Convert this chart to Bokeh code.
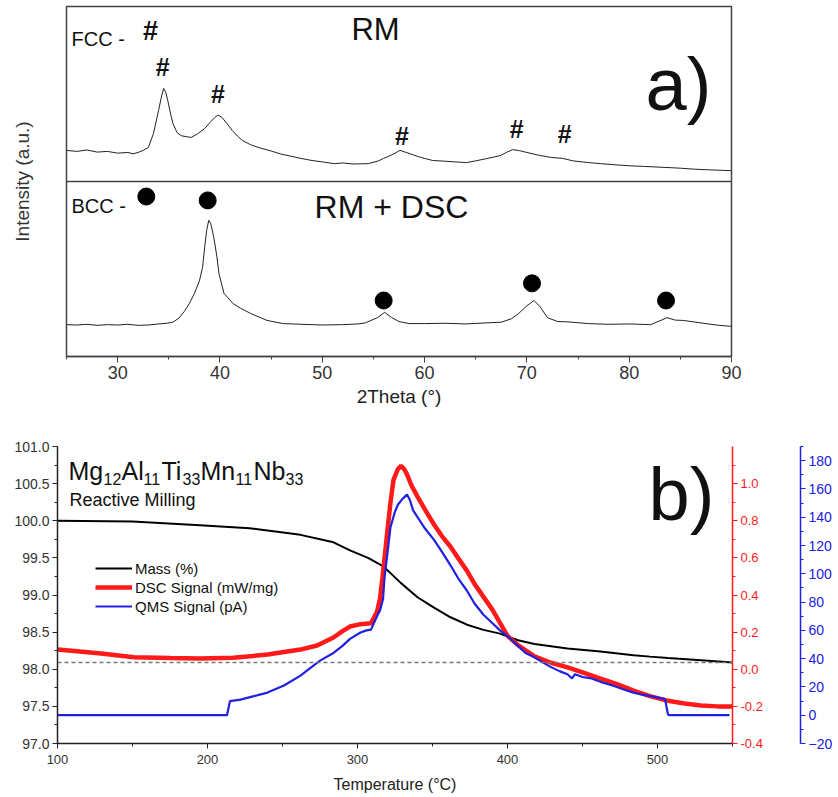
from bokeh.plotting import figure
from bokeh.models import (Range1d, LinearAxis, SingleIntervalTicker, FixedTicker, Span, Label,
                          Legend, LegendItem, NumeralTickFormatter)
from bokeh.core.properties import value
from bokeh.embed import file_html
from bokeh.resources import INLINE

FONT = "Liberation Sans"

# ---------------- panel a) XRD data ----------------
two_theta_rm = [25.0, 26.0, 27.0, 28.0, 29.0, 30.0, 31.0, 31.5, 32.0, 32.5, 33.0, 33.5, 34.0, 34.3,
                34.5, 34.7, 34.9, 35.2, 35.4, 35.8, 36.2, 36.7, 37.2, 37.8, 38.5, 39.0, 39.5, 39.8,
                40.2, 40.7, 41.2, 41.7, 42.2, 43.0, 44.0, 44.8, 46.0, 47.0, 47.9, 49.0, 50.0, 51.2,
                52.0, 53.0, 54.5, 55.5, 56.0, 57.0, 57.6, 58.2, 58.9, 59.5, 60.0, 60.8, 62.0, 63.0,
                64.1, 65.0, 66.0, 67.4, 68.0, 68.6, 69.3, 70.0, 71.0, 72.3, 73.5, 74.5, 76.0, 77.2,
                78.5, 80.0, 81.5, 83.7, 85.0, 86.5, 88.0, 89.0, 90.0]
intensity_rm = [8.9, 8.6, 9.0, 8.4, 8.6, 8.1, 8.3, 7.9, 8.3, 8.9, 9.7, 13.7, 20.3, 24.5,
                26.6, 25.5, 23.1, 19.0, 16.6, 14.0, 13.1, 12.8, 12.6, 13.6, 15.1, 16.8, 18.3, 19.0,
                18.3, 16.5, 14.6, 13.0, 11.7, 10.5, 9.5, 8.9, 7.8, 7.2, 6.6, 6.0, 5.6, 5.1,
                5.3, 5.0, 5.1, 5.9, 6.6, 7.9, 8.9, 8.3, 7.6, 7.0, 6.6, 6.0, 5.8, 5.6,
                5.4, 5.9, 6.5, 7.4, 8.3, 9.1, 8.8, 8.3, 7.6, 6.9, 6.6, 5.9, 5.4, 5.1,
                4.8, 4.5, 4.3, 4.0, 3.8, 3.5, 3.3, 3.2, 3.1]
RM_OFFSET = 50.0

two_theta_dsc = [25.0, 26.0, 27.0, 28.0, 29.0, 30.0, 31.0, 32.0, 33.0, 34.0, 34.8, 35.4, 36.0, 36.5,
                 37.0, 37.5, 38.0, 38.3, 38.5, 38.7, 38.9, 39.1, 39.4, 39.7, 39.9, 40.4, 41.3, 42.0,
                 43.0, 44.6, 46.2, 48.0, 50.0, 52.0, 53.5, 54.2, 55.4, 56.1, 56.8, 57.5, 58.5, 60.0,
                 62.0, 64.0, 66.0, 67.5, 68.5, 69.2, 70.0, 70.7, 71.3, 72.0, 73.0, 74.0, 76.0, 78.0,
                 80.0, 82.1, 83.0, 83.7, 84.5, 85.3, 87.0, 88.5, 90.0]
intensity_dsc = [9.1, 9.0, 9.2, 8.9, 9.1, 9.0, 9.2, 8.9, 9.0, 9.3, 9.5, 9.8, 11.0, 12.8,
                 15.1, 18.0, 21.7, 25.5, 31.1, 36.0, 38.9, 38.0, 34.0, 28.5, 23.7, 18.0, 15.1, 13.8,
                 12.3, 10.3, 9.4, 9.2, 9.0, 9.1, 9.3, 9.6, 11.1, 12.6, 11.1, 10.0, 9.4, 9.4,
                 9.5, 9.3, 9.6, 9.8, 10.8, 12.3, 14.5, 16.0, 14.2, 11.1, 10.0, 9.9, 9.4, 9.2,
                 9.3, 9.1, 10.2, 11.1, 10.4, 10.3, 9.6, 9.0, 8.6]

fcc_peaks = [34.4, 39.8, 57.8, 69.0, 73.7]
fcc_mark_height = [82.6, 75.1, 63.1, 65.1, 63.7]
bcc_peaks = [38.8, 56.0, 70.5, 83.6]
bcc_mark_height = [44.6, 16.0, 20.9, 16.0]
xrd_tick_interval = 10

# ---------------- panel b) thermal analysis data ----------------
temp_mass = [100, 150, 195, 228, 262, 284, 295, 307, 317, 329, 340, 351, 362, 373, 384, 395, 407,
             418, 429, 440, 462, 484, 495, 507, 529, 550]
mass = [100.0, 99.99, 99.94, 99.90, 99.81, 99.71, 99.60, 99.50, 99.39, 99.16, 98.97, 98.83, 98.70,
        98.60, 98.53, 98.48, 98.39, 98.34, 98.31, 98.28, 98.24, 98.19, 98.17, 98.15, 98.12, 98.09]

temp_dsc = [100, 115, 129, 151, 175, 195, 217, 240, 262, 273, 284, 290, 295, 302, 309, 313, 315,
            317, 320, 322, 324, 327, 329, 331, 333, 336, 340, 345, 351, 356, 362, 367, 373, 378,
            384, 390, 395, 400, 407, 418, 429, 440, 451, 462, 473, 484, 495, 507, 518, 529, 540, 550]
dsc = [0.106, 0.095, 0.085, 0.065, 0.060, 0.058, 0.062, 0.079, 0.106, 0.128, 0.171, 0.205, 0.230,
       0.243, 0.248, 0.31, 0.38, 0.52, 0.75, 0.90, 1.02, 1.08, 1.095, 1.08, 1.05, 0.99, 0.93, 0.86,
       0.78, 0.72, 0.66, 0.60, 0.53, 0.46, 0.39, 0.32, 0.25, 0.18, 0.13, 0.07, 0.035, 0.01, -0.02,
       -0.05, -0.08, -0.115, -0.145, -0.17, -0.185, -0.195, -0.20, -0.20]

temp_qms = [100, 213, 215, 222, 229, 240, 251, 262, 268, 275, 284, 290, 295, 302, 306, 309, 313,
            315, 317, 318, 320, 322, 325, 327, 330, 333, 335, 337, 340, 345, 351, 356, 362, 367,
            373, 378, 384, 390, 395, 400, 407, 412, 418, 424, 429, 435, 440, 443, 445, 450, 456,
            462, 470, 478, 484, 490, 498, 505, 507, 508, 548]
qms = [0, 0, 10, 11, 13, 16, 21, 28, 33, 38.6, 44, 49, 54, 58.5, 60, 60.5, 70,
       74, 82, 97, 115, 133, 144, 149, 153, 156, 152, 145, 140, 132, 124, 116, 106, 97,
       88, 79, 71, 65, 60, 56, 49, 44, 41, 37, 34, 31, 29, 26, 29, 27, 26,
       23.6, 21, 18, 16, 14.5, 13, 11.4, 0.5, 0, 0]

final_mass_level = 98.09

RED = "#ff1a1a"
BLUE = "#2020e0"
INK = "#333333"

# ================= panel a =================
p1 = figure(width=838, height=410, x_range=Range1d(25, 90), y_range=Range1d(0, 100),
            output_backend="svg", toolbar_location=None,
            min_border_left=66, min_border_right=107, min_border_top=6, min_border_bottom=54)
p1.grid.visible = False
p1.outline_line_color = "#444444"
p1.outline_line_width = 1.5
p1.background_fill_color = "white"
p1.border_fill_color = "white"

xa = p1.xaxis[0]
xa.ticker = SingleIntervalTicker(interval=xrd_tick_interval, num_minor_ticks=2)
xa.axis_line_color = "#444444"
xa.axis_line_width = 1.5
xa.major_tick_line_color = "#444444"
xa.minor_tick_line_color = "#444444"
xa.major_tick_out = 6
xa.major_tick_in = 0
xa.minor_tick_out = 3
xa.minor_tick_in = 0
xa.major_label_standoff = 3
xa.major_label_text_font = FONT
xa.major_label_text_font_size = "18px"
xa.major_label_text_color = INK
xa.axis_label = "2Theta (°)"
xa.axis_label_text_font = FONT
xa.axis_label_text_font_size = "19px"
xa.axis_label_text_font_style = "normal"
xa.axis_label_text_color = "#222222"
xa.axis_label_standoff = 4

ya = p1.yaxis[0]
ya.ticker = FixedTicker(ticks=[])
ya.axis_line_color = None
ya.major_tick_out = 0
ya.major_tick_in = 0
ya.axis_label = "Intensity (a.u.)"
ya.axis_label_text_font = FONT
ya.axis_label_text_font_size = "19px"
ya.axis_label_text_font_style = "normal"
ya.axis_label_text_color = INK
ya.axis_label_standoff = 34

p1.add_layout(Span(location=RM_OFFSET, dimension="width", line_color="#444444", line_width=1.5))

p1.line(two_theta_rm, [v + RM_OFFSET for v in intensity_rm], line_color="#222222", line_width=1)
p1.line(two_theta_dsc, intensity_dsc, line_color="#222222", line_width=1)

p1.text(x=fcc_peaks, y=fcc_mark_height, text=["#"] * len(fcc_peaks), text_font=value(FONT),
        text_font_size="25px", text_font_style="bold", text_align="center",
        text_baseline="middle", text_color="#111111")
p1.scatter(x=bcc_peaks, y=bcc_mark_height, size=17, marker="circle", color="#000000")

def lab(fig, text, x, y, size, align="left", baseline="alphabetic", color="#111111", style="normal"):
    fig.add_layout(Label(x=x, y=y, x_units="screen", y_units="screen", text=text,
                         text_font=FONT, text_font_size=size, text_align=align,
                         text_baseline=baseline, text_color=color, text_font_style=style))

lab(p1, "FCC -", 5, 318, "20px")
lab(p1, "#", 84, 326, "27px", align="center", baseline="middle", style="bold")
lab(p1, "BCC -", 5, 151, "20px")
p1.scatter(x=[32.8], y=[45.7], size=17, marker="circle", color="#000000")
lab(p1, "RM", 309, 327, "31px", align="center", baseline="middle")
lab(p1, "RM + DSC", 325, 150, "32px", align="center", baseline="middle")
lab(p1, "a)", 579, 272, "74px", baseline="middle")

# ================= panel b =================
p2 = figure(width=838, height=387, x_range=Range1d(100, 550), y_range=Range1d(97, 101),
            output_backend="svg", toolbar_location=None,
            min_border_left=57, min_border_right=106, min_border_top=36, min_border_bottom=54)
p2.grid.visible = False
p2.outline_line_color = None
p2.background_fill_color = "white"
p2.border_fill_color = "white"
p2.extra_y_ranges = {"dsc": Range1d(-0.4, 1.2), "qms": Range1d(-20, 190)}

def style_axis(ax, color, size="13px"):
    ax.axis_line_color = color
    ax.axis_line_width = 1.5
    ax.major_tick_line_color = color
    ax.minor_tick_line_color = color
    ax.major_tick_out = 5
    ax.major_tick_in = 0
    ax.minor_tick_out = 3
    ax.minor_tick_in = 0
    ax.major_label_text_font = FONT
    ax.major_label_text_font_size = size
    ax.major_label_text_color = color if color != "#222222" else INK
    ax.major_label_standoff = 3

bx = p2.xaxis[0]
bx.ticker = SingleIntervalTicker(interval=100, num_minor_ticks=2)
style_axis(bx, "#222222")
bx.major_label_standoff = 6
bx.axis_label = "Temperature (°C)"
bx.axis_label_text_font = FONT
bx.axis_label_text_font_size = "16px"
bx.axis_label_text_font_style = "normal"
bx.axis_label_text_color = "#222222"
bx.axis_label_standoff = 9

by = p2.yaxis[0]
by.ticker = SingleIntervalTicker(interval=0.5, num_minor_ticks=2)
by.formatter = NumeralTickFormatter(format="0.0")
style_axis(by, "#222222", "14px")

red_ax = LinearAxis(y_range_name="dsc", ticker=SingleIntervalTicker(interval=0.2, num_minor_ticks=2),
                    formatter=NumeralTickFormatter(format="0.0"))
style_axis(red_ax, RED)
red_ax.axis_label = " "
red_ax.axis_label_text_font_size = "20px"
red_ax.axis_label_standoff = 10
p2.add_layout(red_ax, "right")

blue_ax = LinearAxis(y_range_name="qms", ticker=SingleIntervalTicker(interval=20, num_minor_ticks=2))
style_axis(blue_ax, BLUE, "14px")
p2.add_layout(blue_ax, "right")

p2.add_layout(Span(location=final_mass_level, dimension="width", line_color="#777777",
                   line_width=1.5, line_dash="4 3"))

r_mass = p2.line(temp_mass, mass, line_color="#000000", line_width=2)
r_dsc = p2.line(temp_dsc, dsc, line_color=RED, line_width=4.5, y_range_name="dsc")
r_qms = p2.line(temp_qms, qms, line_color=BLUE, line_width=2.2, y_range_name="qms")

legend = Legend(items=[LegendItem(label="Mass (%)", renderers=[r_mass]),
                       LegendItem(label="DSC Signal (mW/mg)", renderers=[r_dsc]),
                       LegendItem(label="QMS Signal (pA)", renderers=[r_qms])],
                location=(38, 128), border_line_color=None, background_fill_alpha=0,
                padding=0, margin=0, spacing=1, glyph_width=37, glyph_height=18,
                label_height=18, label_standoff=3, label_text_font=FONT,
                label_text_font_size="15px", label_text_color="#111111")
p2.add_layout(legend)

# title with subscripts
title_parts = [("Mg", 11, False), ("12", 46, True), ("Al", 64, False), ("11", 86, True),
               ("Ti", 104, False), ("33", 125, True), ("Mn", 143, False), ("11", 178, True),
               ("Nb", 196, False), ("33", 228, True)]
for txt, xx, sub in title_parts:
    if sub:
        lab(p2, txt, xx, 265, "16px")
    else:
        lab(p2, txt, xx, 273, "25px")
lab(p2, "Reactive Milling", 12, 244, "18px")
lab(p2, "b)", 591, 249, "74px", baseline="middle")

open("out.html", "w").write(file_html([p1, p2], INLINE))
